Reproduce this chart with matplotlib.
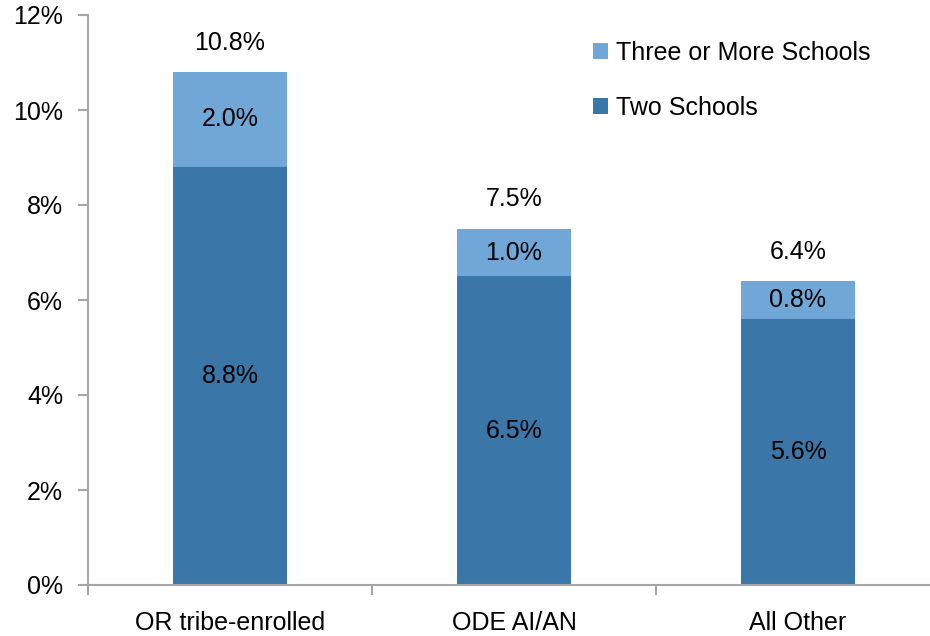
import matplotlib.pyplot as plt
import numpy as np

categories = ['OR tribe-enrolled', 'ODE AI/AN', 'All Other']
two_schools = [8.8, 6.5, 5.6]
three_plus = [2.0, 1.0, 0.8]
totals = [10.8, 7.5, 6.4]

dark = '#3A76A8'
light = '#70A7D7'
grey = '#A6A6A6'
fs = 18

plt.rcParams['font.family'] = ['Liberation Sans', 'DejaVu Sans']

fig = plt.figure(figsize=(9.3, 6.36), dpi=100)
ax = fig.add_axes([88 / 930, 1 - 585 / 636, 852 / 930, 570 / 636])

x = np.arange(len(categories))
ax.bar(x, two_schools, width=0.4, color=dark, label='Two Schools')
ax.bar(x, three_plus, width=0.4, bottom=two_schools, color=light,
       label='Three or More Schools')

# labels inside and above the bars
for i in x:
    ax.text(i, two_schools[i] / 2, f'{two_schools[i]:.1f}%', ha='center',
            va='center', fontsize=fs)
    ax.text(i, two_schools[i] + three_plus[i] / 2, f'{three_plus[i]:.1f}%',
            ha='center', va='center', fontsize=fs)
    ax.text(i, totals[i] + 0.62, f'{totals[i]:.1f}%', ha='center',
            va='center', fontsize=fs)

ax.set_xlim(-0.5, 2.5)
ax.set_ylim(0, 12)
ax.set_yticks(range(0, 13, 2))
ax.set_yticklabels([f'{v}%' for v in range(0, 13, 2)], fontsize=fs)

ax.set_xticks(x)
ax.set_xticklabels(categories, fontsize=fs)
ax.tick_params(axis='x', length=0, pad=19)
ax.set_xticks([-0.5, 0.5, 1.5, 2.5], minor=True)
ax.tick_params(axis='x', which='minor', length=7, color=grey, width=1.5,
               direction='out')
ax.tick_params(axis='y', length=7, color=grey, width=1.5, pad=11)

for s in ['top', 'right']:
    ax.spines[s].set_visible(False)
for s in ['left', 'bottom']:
    ax.spines[s].set_color(grey)
    ax.spines[s].set_linewidth(1.5)

handles, labels = ax.get_legend_handles_labels()
fig.legend(handles[::-1], labels[::-1], loc='upper left',
           bbox_to_anchor=(593 / 930, 1 - 41 / 636), frameon=False,
           fontsize=fs, handlelength=0.6, handleheight=0.6,
           handletextpad=0.3, labelspacing=1.24, borderpad=0,
           borderaxespad=0)

fig.savefig('out.png', dpi=100)
